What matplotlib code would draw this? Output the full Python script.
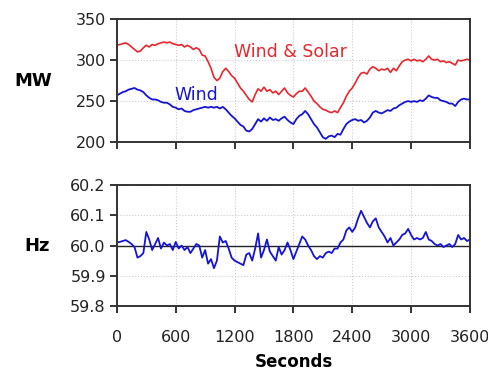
import matplotlib

matplotlib.use("Agg")

import matplotlib.pyplot as plt
import numpy as np

# one sample every 30 s over the hour
seconds = np.arange(0, 3601, 30)

wind_solar_mw = [
    318, 319, 320, 321, 319, 316, 313, 310, 311, 315, 318, 316, 319, 318, 320, 321,
    322, 321, 322, 320, 319, 318, 319, 316, 318, 316, 313, 315, 313, 306, 305, 298,
    290, 279, 275, 278, 286, 290, 286, 281, 278, 272, 266, 262, 257, 252, 249, 258,
    265, 262, 267, 262, 264, 260, 262, 258, 262, 266, 260, 257, 255, 259, 262, 262,
    266, 261, 256, 250, 247, 243, 240, 239, 237, 236, 238, 236, 242, 248, 256, 262,
    266, 272, 279, 284, 285, 283, 289, 292, 290, 287, 289, 288, 290, 285, 290, 287,
    293, 298, 300, 301, 299, 301, 299, 300, 298, 301, 305, 301, 300, 301, 298, 299,
    297, 298, 296, 294, 300, 299, 300, 301, 300,
]

wind_mw = [
    257, 259, 261, 262, 264, 265, 266, 264, 263, 261, 257, 254, 252, 252, 251, 249,
    248, 248, 246, 243, 242, 240, 241, 238, 237, 237, 239, 240, 241, 242, 243, 242,
    243, 242, 243, 241, 243, 240, 236, 232, 229, 225, 221, 219, 214, 213, 216, 222,
    228, 225, 229, 226, 230, 227, 228, 226, 229, 231, 227, 224, 222, 228, 232, 234,
    238, 234, 228, 222, 218, 212, 206, 204, 207, 208, 206, 210, 209, 216, 222, 225,
    227, 228, 226, 227, 224, 226, 230, 236, 238, 236, 235, 237, 239, 238, 241, 242,
    245, 247, 249, 250, 249, 250, 249, 251, 250, 253, 257, 255, 254, 254, 251, 250,
    249, 247, 247, 244, 249, 252, 253, 252, 252,
]

freq_hz = [
    60.010, 60.012, 60.015, 60.018, 60.012, 60.005, 59.995, 59.960, 59.965, 59.975,
    60.045, 60.020, 59.985, 60.005, 60.025, 59.990, 60.010, 60.000, 60.005, 59.985,
    60.012, 59.990, 60.000, 59.985, 59.995, 59.975, 59.990, 60.005, 60.000, 59.960,
    59.985, 59.940, 59.955, 59.925, 59.950, 60.030, 60.010, 60.015, 59.990, 59.960,
    59.950, 59.945, 59.940, 59.935, 59.970, 59.975, 59.950, 59.990, 60.040, 59.960,
    59.985, 60.020, 59.980, 59.965, 59.950, 59.995, 59.970, 59.985, 60.010, 59.985,
    59.955, 59.980, 60.005, 60.030, 60.020, 60.000, 59.985, 59.965, 59.955, 59.965,
    59.960, 59.975, 59.980, 59.975, 59.990, 59.990, 60.010, 60.020, 60.050, 60.060,
    60.045, 60.060, 60.090, 60.115, 60.095, 60.075, 60.060, 60.080, 60.090, 60.060,
    60.045, 60.030, 60.010, 60.025, 60.000, 60.010, 60.020, 60.035, 60.040, 60.055,
    60.035, 60.020, 60.025, 60.020, 60.025, 60.045, 60.020, 60.015, 60.005, 60.000,
    60.005, 59.995, 60.000, 60.005, 59.995, 60.005, 60.035, 60.020, 60.025, 60.015,
    60.020,
]

x_ticks = [0, 600, 1200, 1800, 2400, 3000, 3600]
mw_ticks = [200, 250, 300, 350]
hz_ticks = [59.8, 59.9, 60.0, 60.1, 60.2]

RED = "#e8262c"
BLUE = "#1414d2"
SPINE = "#333333"

plt.rcParams["font.family"] = "DejaVu Sans"

fig = plt.figure(figsize=(4.89, 3.74), dpi=100)
ax_mw = fig.add_axes([0.239, 0.620, 0.722, 0.329])
ax_hz = fig.add_axes([0.239, 0.182, 0.722, 0.323])

for ax in (ax_mw, ax_hz):
    ax.set_xlim(0, 3600)
    ax.set_xticks(x_ticks)
    ax.grid(True, color="#cccccc", linestyle=":", linewidth=0.8)
    ax.set_axisbelow(True)
    for s in ax.spines.values():
        s.set_color(SPINE)
        s.set_linewidth(1.4)
    ax.tick_params(direction="out", length=5, width=1.4, color=SPINE,
                   labelsize=11.5, labelcolor="#222222", pad=3)

ax_mw.plot(seconds, wind_solar_mw, color=RED, linewidth=1.2)
ax_mw.plot(seconds, wind_mw, color=BLUE, linewidth=1.3)
ax_mw.set_ylim(200, 350)
ax_mw.set_yticks(mw_ticks)
ax_mw.tick_params(axis="x", labelbottom=False)
ax_mw.set_ylabel("MW", rotation=0, fontsize=13, fontweight="bold",
                 labelpad=30, va="center")
ax_mw.text(1190, 310, "Wind & Solar", color=RED, fontsize=12.5, va="center")
ax_mw.text(590, 258, "Wind", color=BLUE, fontsize=12.5, va="center")

ax_hz.axhline(60.0, color="#222222", linewidth=1.0)
ax_hz.plot(seconds, freq_hz, color=BLUE, linewidth=1.3)
ax_hz.set_ylim(59.8, 60.2)
ax_hz.set_yticks(hz_ticks)
ax_hz.set_yticklabels([f"{v:.1f}" for v in hz_ticks])
ax_hz.set_ylabel("Hz", rotation=0, fontsize=13, fontweight="bold",
                 labelpad=24, va="center")
ax_hz.set_xlabel("Seconds", fontsize=12, fontweight="bold", labelpad=6)
ax_hz.tick_params(axis="x", pad=12)

fig.savefig("out.png", dpi=100)
plt.close(fig)
